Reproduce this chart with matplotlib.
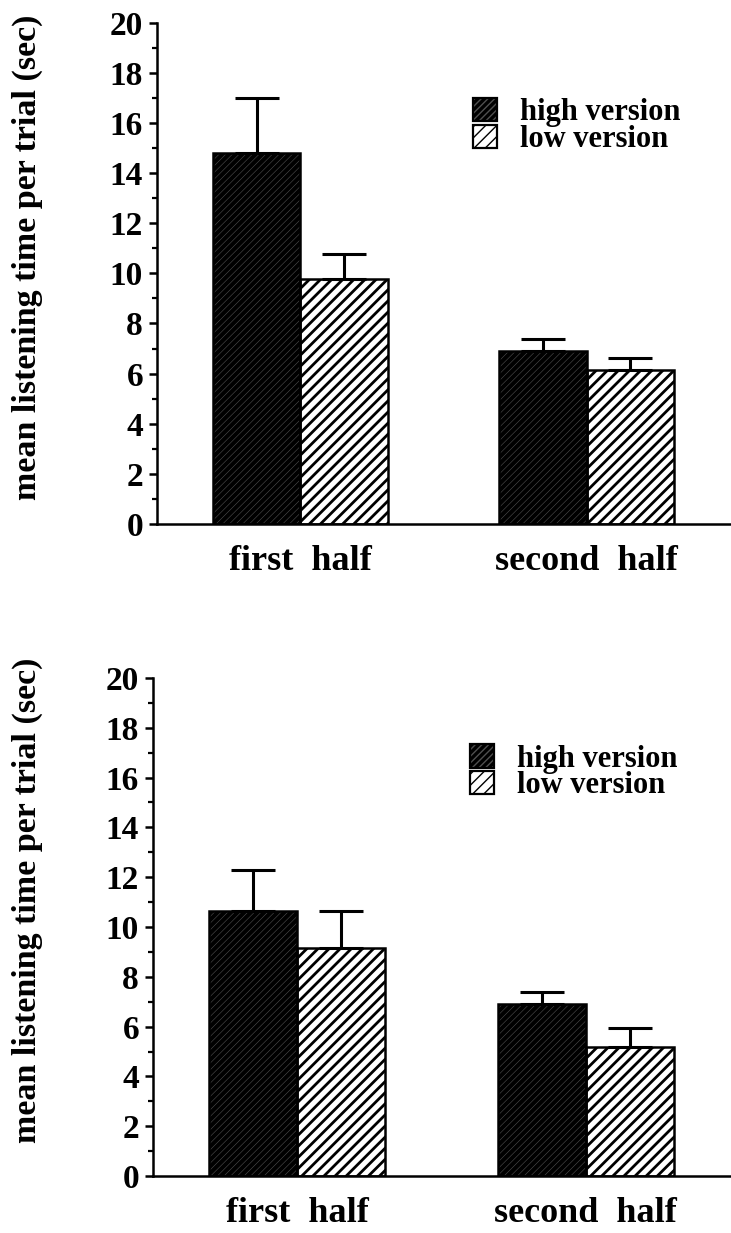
import matplotlib
matplotlib.use("Agg")
import matplotlib.pyplot as plt
from matplotlib.patches import Patch
from matplotlib.legend_handler import HandlerTuple
from matplotlib.ticker import MultipleLocator
import numpy as np

# ---- data ----
categories = ["first  half", "second  half"]
series_names = ["high version", "low version"]

top_high = [14.8, 6.9]
top_high_err = [2.2, 0.47]
top_low = [9.77, 6.14]
top_low_err = [1.0, 0.47]

bot_high = [10.65, 6.9]
bot_high_err = [1.64, 0.47]
bot_low = [9.14, 5.18]
bot_low_err = [1.5, 0.76]

ylabel = "mean listening time per trial (sec)"
yticks = [0, 2, 4, 6, 8, 10, 12, 14, 16, 18, 20]

plt.rcParams['font.family'] = ['Liberation Serif', 'DejaVu Serif']
plt.rcParams['font.weight'] = 'bold'

W, H = 731, 1233
fig = plt.figure(figsize=(W / 100, H / 100), dpi=100)


def ax_rect(left_px, right_px, top_px, bottom_px):
    return [left_px / W, 1 - bottom_px / H, (right_px - left_px) / W, (bottom_px - top_px) / H]


HIGH_STYLE = dict(face='black', hatch='/////', hcolor='#505050', hlw=0.4)
LOW_STYLE = dict(face='white', hatch='///', hcolor='black', hlw=2.0)


def hatched_bar(ax, x, h, width, align, style):
    bars = ax.bar(x, h, width, align=align, color=style['face'],
                  edgecolor=style['hcolor'], linewidth=0, hatch=style['hatch'], zorder=2)
    for b in bars:
        if hasattr(b, 'set_hatch_linewidth'):
            b.set_hatch_linewidth(style['hlw'])
    ax.bar(x, h, width, align=align, fill=False, edgecolor='black', linewidth=1.8, zorder=3)
    return bars


def proxy(style):
    p = Patch(facecolor=style['face'], edgecolor=style['hcolor'], hatch=style['hatch'], linewidth=0)
    if hasattr(p, 'set_hatch_linewidth'):
        p.set_hatch_linewidth(style['hlw'])
    o = Patch(facecolor='none', edgecolor='black', linewidth=1.6)
    return (p, o)


def panel(rect, high, high_err, low, low_err, leg_anchor, label_xy):
    ax = fig.add_axes(rect)
    x = np.arange(len(categories))
    w = 0.305
    with plt.rc_context({'hatch.linewidth': HIGH_STYLE['hlw']}):
        hatched_bar(ax, x - w, high, w, 'edge', HIGH_STYLE)
    with plt.rc_context({'hatch.linewidth': LOW_STYLE['hlw']}):
        hatched_bar(ax, x, low, w, 'edge', LOW_STYLE)
    ax.errorbar(x - w / 2, high, yerr=[np.zeros(len(high)), high_err], fmt='none',
                ecolor='black', elinewidth=2.2, capsize=15.5, capthick=2.2, zorder=4)
    ax.errorbar(x + w / 2, low, yerr=[np.zeros(len(low)), low_err], fmt='none',
                ecolor='black', elinewidth=2.2, capsize=15.5, capthick=2.2, zorder=4)
    ax.set_xlim(-0.5, 1.5)
    ax.set_ylim(0, 20)
    ax.set_yticks(yticks)
    ax.yaxis.set_minor_locator(MultipleLocator(1))
    ax.set_xticks(x)
    ax.set_xticklabels(categories, fontsize=26, fontweight='bold')
    ax.tick_params(axis='x', length=0, pad=15)
    ax.tick_params(axis='y', which='major', length=6, width=1.8, labelsize=24, pad=4)
    ax.tick_params(axis='y', which='minor', length=3.5, width=1.6)
    for lab in ax.get_yticklabels():
        lab.set_fontweight('bold')
    for s in ['top', 'right']:
        ax.spines[s].set_visible(False)
    ax.spines['left'].set_linewidth(1.8)
    ax.spines['bottom'].set_linewidth(1.8)
    with plt.rc_context({'hatch.linewidth': HIGH_STYLE['hlw']}):
        hp = proxy(HIGH_STYLE)
    with plt.rc_context({'hatch.linewidth': LOW_STYLE['hlw']}):
        lp = proxy(LOW_STYLE)
    ax.legend([hp, lp], series_names, handler_map={tuple: HandlerTuple(ndivide=1)},
              loc='upper left', bbox_to_anchor=leg_anchor, frameon=False,
              prop={'family': 'Liberation Serif', 'weight': 'bold', 'size': 22},
              handlelength=0.8, handleheight=0.8, handletextpad=0.75,
              labelspacing=-0.08, borderpad=0, borderaxespad=0)
    fig.text(label_xy[0] / W, 1 - label_xy[1] / H, ylabel, rotation=90, ha='center', va='center',
             fontsize=24.5, fontweight='bold')
    return ax


panel(ax_rect(157, 730, 22.7, 524), top_high, top_high_err, top_low, top_low_err,
      (0.551, 0.85), (27, 257))
panel(ax_rect(153, 730, 678, 1176), bot_high, bot_high_err, bot_low, bot_low_err,
      (0.549, 0.867), (27, 900))

fig.savefig("out.png", dpi=100)
